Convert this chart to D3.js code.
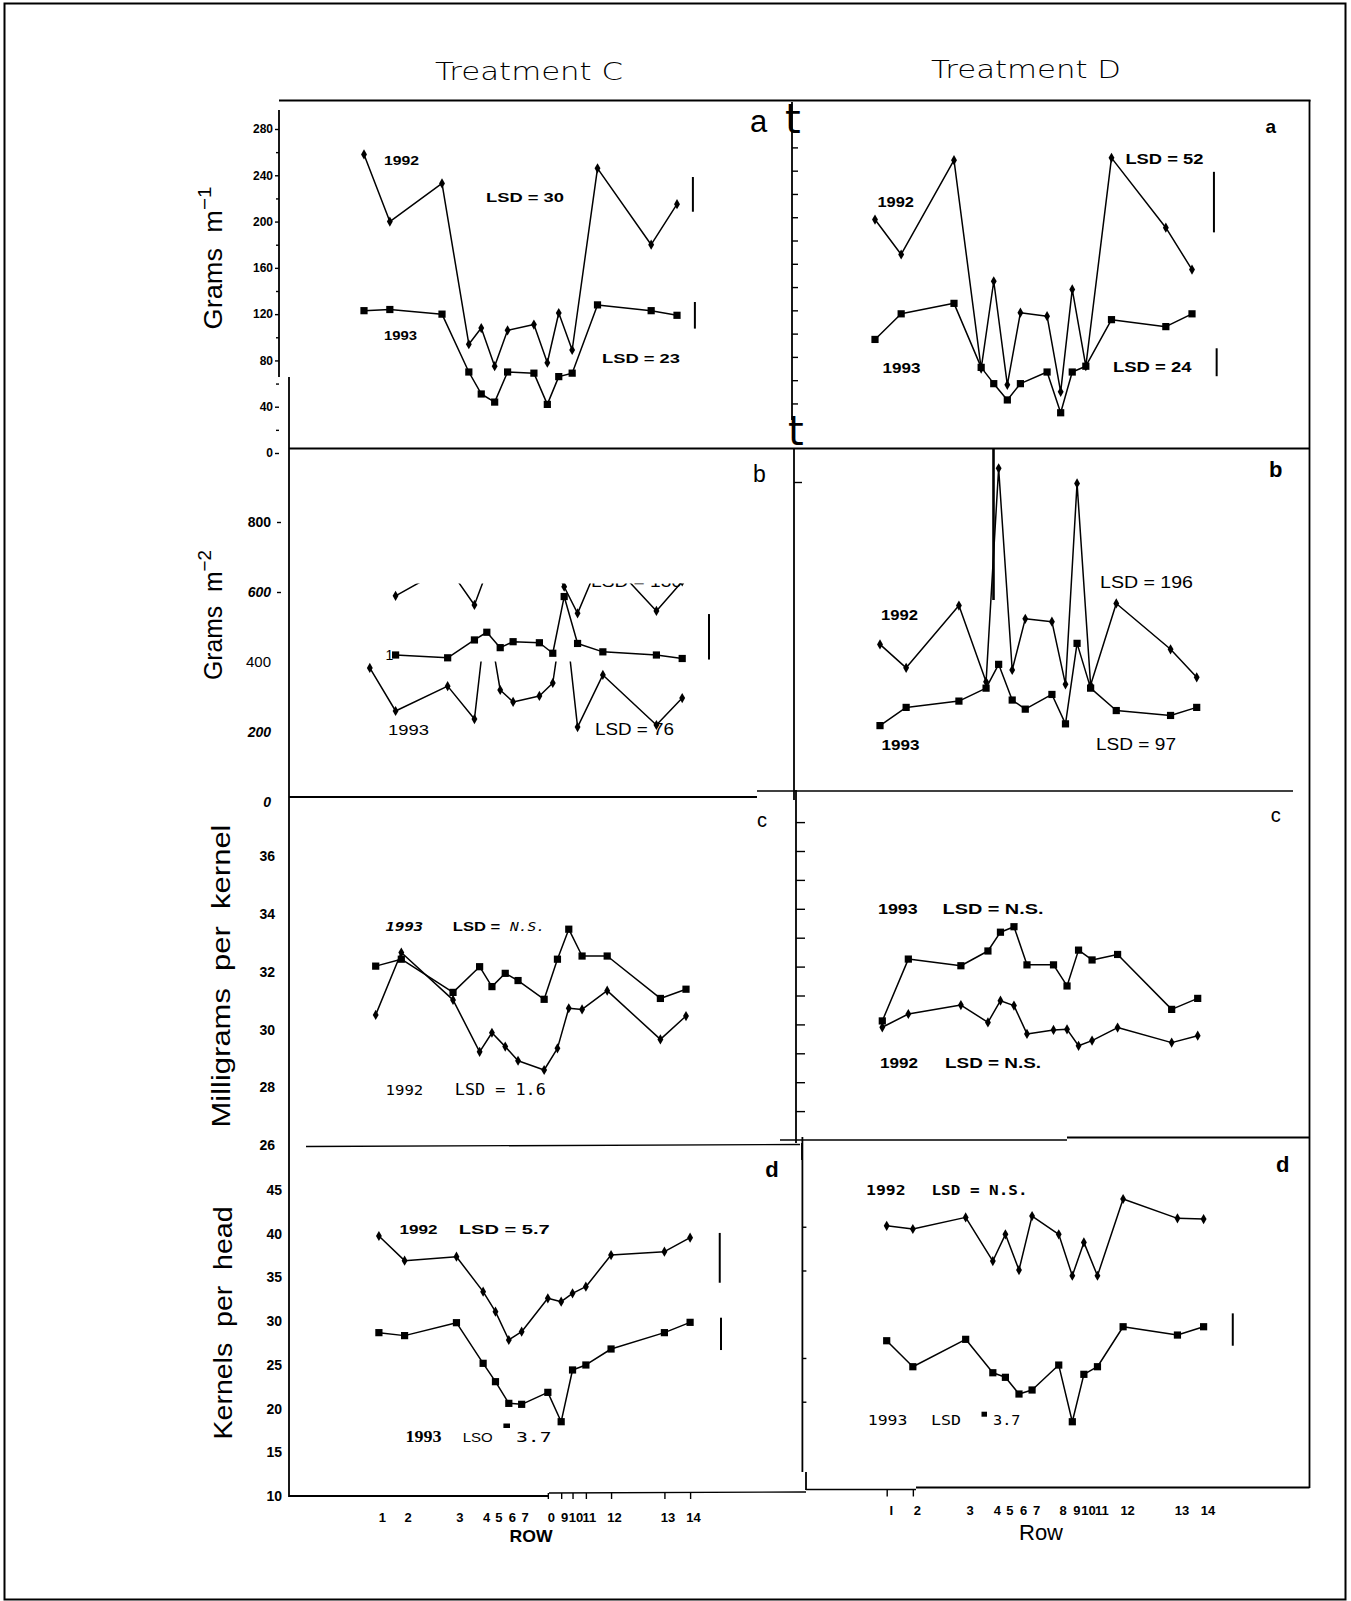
<!DOCTYPE html>
<html><head><meta charset="utf-8">
<script src="https://cdn.jsdelivr.net/npm/d3@7"></script>
<style>
body{margin:0;background:#fff}
svg text{white-space:pre}
</style></head><body>
<svg id="chart" width="1351" height="1601"></svg>
<script>
// ---------------- DATA ----------------
const rowLabelsC = ["1","2","3","4","5","6","7","0","9","10","11","12","13","14"];
const rowLabelsD = ["I","2","3","4","5","6","7","8","9","10","11","12","13","14"];
// relative distance of each row across the plot (row 1 = 0)
const rowDistance = [0, 26, 78.5, 105.5, 118, 131.5, 144.5, 171, 184.5, 196, 209.5, 235, 289, 315];

// (a) Grams m-1
const aC1992 = [258,200,233,94,108,75,106,111,78,121,89,246,180,215];
const aC1993 = [123,124,120,70,51,44,70,69,42,66,69,128,123,119];
const aD1992 = [198,168,249,70,145,56,118,115,50,138,72,251,191,155];
const aD1993 = [95,117,126,71,57,43,57,67,32,67,72,112,106,117];
// (b) Grams m-2
const bCSquares  = [null,420,412,463,485,441,458,455,425,587,453,429,420,410];
const bCDiamonds = [383,260,331,237,545,320,286,303,340,560,214,363,220,297];
const bCUpper    = [null,589,672,563,658,680,700,690,680,615,539,710,546,630];
const bD1992 = [416,349,527,309,919,343,489,481,302,876,300,533,402,322];
const bD1993 = [184,236,254,291,359,257,231,273,189,419,291,227,213,236];
// (c) Milligrams per kernel
const cC1993 = [32.2,32.44,31.29,32.18,31.49,31.95,31.70,31.05,32.44,33.48,32.55,32.55,31.08,31.40];
const cC1992 = [30.51,32.67,31.03,29.23,29.89,29.41,28.92,28.60,29.35,30.74,30.70,31.35,29.66,30.47];
const cD1993 = [30.12,32.26,32.03,32.54,33.19,33.38,32.06,32.06,31.33,32.57,32.23,32.42,30.52,30.90];
const cD1992 = [29.90,30.36,30.67,30.07,30.82,30.65,29.67,29.81,29.83,29.26,29.44,29.89,29.37,29.61];
// (d) Kernels per head
const dC1992 = [39.75,36.93,37.38,33.38,31.09,27.85,28.80,32.62,32.23,33.19,33.95,37.57,37.95,39.56];
const dC1993 = [28.69,28.35,29.83,25.18,23.08,20.60,20.49,21.86,18.50,24.42,24.99,26.82,28.69,29.87];
const dD1992 = [40.11,39.74,41.07,36.08,39.13,35.05,41.22,39.13,34.40,38.21,34.40,43.17,40.96,40.88];
const dD1993 = [26.97,24.00,27.13,23.31,22.79,20.88,21.34,24.19,17.71,23.13,24.00,28.57,27.62,28.57];

// LSD values
const lsdA_C = [30, 23];
const lsdA_D = [52, 24];
const lsdB_C = [76, 130];
const lsdB_D = [196, 97];
const lsdD_C = [5.7, 3.7];
const lsdD_D = [3.7];

// y tick values
const ticksA_C = [0,40,80,120,160,200,240,280];
const minorA_C = [20,60,100,140,180,220,260];
const ticksA_D = [40,60,80,100,120,140,160,180,200,220,240,260];
const ticksB_C = [800,600,400,200,0];
const ticksC_C = [26,28,30,32,34,36];
const ticksC_D = [27,28,29,30,31,32,33,34,35,36,37];
const ticksD_C = [10,15,20,25,30,35,40,45];
const ticksD_D = [20,25,35,40];

// ---------------- LAYOUT ----------------
const FONT = "'Liberation Sans', Arial, Helvetica, sans-serif";
const MONO = "'DejaVu Sans Mono', 'Liberation Mono', monospace";
const svg = d3.select("#chart");
svg.append("rect").attr("width",1351).attr("height",1601).attr("fill","#fff");
const defs = svg.append("defs");

const layout = {
  aC:{x:[364,677],     yd:[0,280],  yr:[453,129]},
  aD:{x:[875,1192],    yd:[0,260],  yr:[450,147.4]},
  bC:{x:[369.8,682.2], yd:[0,1000], yr:[802,452]},
  bD:{x:[880,1196.7],  yd:[0,1000], yr:[790,440]},
  cC:{x:[375.7,686],   yd:[26,37],  yr:[1145,827.65]},
  cD:{x:[882.3,1197.7],yd:[26,37],  yr:[1140,822.1]},
  dC:{x:[378.9,690.1], yd:[10,45],  yr:[1496,1190.1]},
  dD:{x:[886.7,1203.6],yd:[10,45],  yr:[1489.2,1183]}
};
const S = {};
for (const k in layout) {
  S[k] = {x:d3.scaleLinear().domain([0,315]).range(layout[k].x),
          y:d3.scaleLinear().domain(layout[k].yd).range(layout[k].yr)};
}

function line(x1,y1,x2,y2,w){
  svg.append("line").attr("x1",x1).attr("y1",y1).attr("x2",x2).attr("y2",y2)
    .attr("stroke","#000").attr("stroke-width",w||1.8);
}
function txt(x,y,s,o={}){
  const t = svg.append("text").attr("x",x).attr("y",y).text(s)
    .attr("font-family",o.family||FONT).attr("font-size",o.size||13)
    .attr("font-weight",o.weight||"normal").attr("font-style",o.style||"normal")
    .attr("fill","#000");
  if (o.len) t.attr("textLength",o.len).attr("lengthAdjust","spacingAndGlyphs");
  if (o.anchor) t.attr("text-anchor",o.anchor);
  if (o.clip) t.attr("clip-path",`url(#${o.clip})`);
  return t;
}
function series(key, values, marker, clip){
  const sc = S[key];
  const g = svg.append("g");
  if (clip) g.attr("clip-path",`url(#${clip})`);
  const pts = values.map((v,i)=>({d:rowDistance[i], v}));
  g.append("path").datum(pts).attr("fill","none").attr("stroke","#000")
    .attr("stroke-width",1.5).attr("stroke-linejoin","round")
    .attr("d", d3.line().defined(p=>p.v!=null).x(p=>sc.x(p.d)).y(p=>sc.y(p.v)));
  const sym = marker==="square" ? d3.symbol(d3.symbolSquare,52) : d3.symbol(d3.symbolDiamond,30);
  g.selectAll(null).data(pts.filter(p=>p.v!=null)).join("path")
    .attr("transform",p=>`translate(${sc.x(p.d)},${sc.y(p.v)})`)
    .attr("d",sym).attr("fill","#000");
}
function lsdBar(key, at, top, lsd){
  const sc = S[key];
  line(sc.x(at), sc.y(top), sc.x(at), sc.y(top - lsd), 2);
}
function styleAxis(g, size, weight){
  g.select(".domain").remove();
  g.selectAll("line").attr("stroke","#000").attr("stroke-width",1.4);
  g.selectAll("text").attr("font-family",FONT).attr("font-size",size)
    .attr("font-weight",weight||"bold").attr("fill","#000");
}
function clipRect(id,x,y,w,h){
  defs.append("clipPath").attr("id",id).append("rect").attr("x",x).attr("y",y).attr("width",w).attr("height",h);
}

// ---------------- FRAME ----------------
svg.append("rect").attr("x",4.5).attr("y",3.5).attr("width",1341).attr("height",1596)
  .attr("fill","none").attr("stroke","#000").attr("stroke-width",2);
line(279,100.5,1310.5,100.5);
line(1309.5,100,1309.5,1488);
line(279,110,279,377);
line(289,377,289,1497);
line(289,448.5,1309.5,448.5);
line(792,102,792,420);
line(794,448,794,800);
line(289,797,757,797);
line(757,791,1293,791,1.4);
line(796,790,796,1143);
line(802,1143,802,1160);
line(306,1146.5,800,1144.5,1.4);
line(780,1140,1067,1140,1.4);
line(1067,1137.5,1309.5,1137.5);
line(802.4,1137,802.4,1472);
line(806,1472,806,1490);
line(289,1496,549,1496);
line(549,1493,806,1492,1.4);
line(806,1489.5,916,1489.5,1.4);
line(916,1487.5,1309.5,1487.5);
line(993.5,448,993.5,600,2.6);

// ---------------- TITLES ----------------
txt(435,80,"Treatment C",{family:"'DejaVu Sans', sans-serif",weight:200,size:25,len:188});
txt(931,78,"Treatment D",{family:"'DejaVu Sans', sans-serif",weight:200,size:25,len:190});

function vtitle(cx,cy,parts,len){
  const t = svg.append("text").attr("transform",`translate(${cx},${cy}) rotate(-90)`)
    .attr("text-anchor","middle").attr("font-family",FONT).attr("font-size",25).attr("fill","#000");
  parts.forEach(p=>{
    const ts = t.append("tspan").text(p.t);
    if (p.sup) ts.attr("dy",-11).attr("font-size",19);
  });
  if (len) t.attr("textLength",len).attr("lengthAdjust","spacingAndGlyphs");
}
vtitle(222,258,[{t:"Grams  m"},{t:"\u22121",sup:true}],143);
vtitle(222,615,[{t:"Grams  m"},{t:"\u22122",sup:true}],130);
vtitle(230,976,[{t:"Milligrams  per  kernel"}],303);
vtitle(232,1323,[{t:"Kernels  per  head"}],233);

// ---------------- AXES ----------------
// a, Treatment C
let g = svg.append("g").attr("transform","translate(279,0)")
  .call(d3.axisLeft(S.aC.y).tickValues(ticksA_C).tickSize(4).tickPadding(2).tickFormat(d3.format("d")));
styleAxis(g,12,"bold");
g = svg.append("g").attr("transform","translate(279,0)")
  .call(d3.axisLeft(S.aC.y).tickValues(minorA_C).tickSize(3).tickFormat(""));
styleAxis(g,12);
// a, Treatment D (inward ticks)
g = svg.append("g").attr("transform","translate(792,0)")
  .call(d3.axisRight(S.aD.y).tickValues(ticksA_D).tickSize(6).tickFormat(""));
styleAxis(g,12);
// b, Treatment C
g = svg.append("g").attr("transform","translate(281,0)")
  .call(d3.axisLeft(S.bC.y).tickValues(ticksB_C).tickSize(4).tickPadding(6).tickFormat(d3.format("d")));
styleAxis(g,15,"normal");
g.selectAll(".tick").each(function(d){
  const t = d3.select(this);
  if (d < 600) t.select("line").remove();
  if (d === 800) t.select("text").attr("font-weight","bold").attr("font-size",14);
  if (d === 600 || d === 200 || d === 0) t.select("text").attr("font-style","italic").attr("font-weight","bold").attr("font-size",14);
});
// b, Treatment D
g = svg.append("g").attr("transform","translate(794,0)")
  .call(d3.axisRight(S.bD.y).tickValues([880]).tickSize(8).tickFormat(""));
styleAxis(g,12);
// c
g = svg.append("g").attr("transform","translate(279,0)")
  .call(d3.axisLeft(S.cC.y).tickValues(ticksC_C).tickSize(0).tickPadding(4).tickFormat(d3.format("d")));
styleAxis(g,14,"bold");
g = svg.append("g").attr("transform","translate(796,0)")
  .call(d3.axisRight(S.cD.y).tickValues(ticksC_D).tickSize(9).tickFormat(""));
styleAxis(g,12);
// d
g = svg.append("g").attr("transform","translate(285,0)")
  .call(d3.axisLeft(S.dC.y).tickValues(ticksD_C).tickSize(0).tickPadding(3).tickFormat(d3.format("d")));
styleAxis(g,14,"bold");
g = svg.append("g").attr("transform","translate(802.4,0)")
  .call(d3.axisRight(S.dD.y).tickValues(ticksD_D).tickSize(4).tickFormat(""));
styleAxis(g,12);
// row axes
g = svg.append("g").attr("transform","translate(0,1493)")
  .call(d3.axisBottom(S.dC.x).tickValues(rowDistance.slice(7)).tickSize(6).tickFormat(""));
styleAxis(g,12);
g = svg.append("g").attr("transform","translate(3,1493)")
  .call(d3.axisBottom(S.dC.x).tickValues(rowDistance).tickSize(0).tickPadding(20)
        .tickFormat((d,i)=>rowLabelsC[i]));
styleAxis(g,13,"bold");
g = svg.append("g").attr("transform","translate(0,1489.5)")
  .call(d3.axisBottom(S.dD.x).tickValues(rowDistance.slice(0,2)).tickSize(7).tickFormat(""));
styleAxis(g,12);
g = svg.append("g").attr("transform","translate(4,1489)")
  .call(d3.axisBottom(S.dD.x).tickValues(rowDistance).tickSize(0).tickPadding(17)
        .tickFormat((d,i)=>rowLabelsD[i]));
styleAxis(g,13,"bold");
txt(531,1542,"ROW",{size:17,weight:"bold",anchor:"middle",len:43});
txt(1041,1540,"Row",{size:22,anchor:"middle",len:44});

// ---------------- SERIES ----------------
series("aC", aC1992, "diamond");
series("aC", aC1993, "square");
series("aD", aD1992, "diamond");
series("aD", aD1993, "square");

clipRect("clipUpper", 289, 583.5, 470, 215);
clipRect("clipLower", 289, 661.5, 470, 136);
series("bC", bCUpper, "diamond", "clipUpper");
series("bC", bCSquares, "square");
series("bC", bCDiamonds, "diamond", "clipLower");
series("bD", bD1992, "diamond");
series("bD", bD1993, "square");

series("cC", cC1993, "square");
series("cC", cC1992, "diamond");
series("cD", cD1993, "square");
series("cD", cD1992, "diamond");

series("dC", dC1992, "diamond");
series("dC", dC1993, "square");
series("dD", dD1992, "diamond");
series("dD", dD1993, "square");

// LSD bars (length = LSD in the panel's units)
lsdBar("aC", 331, 238.5, lsdA_C[0]);
lsdBar("aC", 333, 130.5, lsdA_C[1]);
lsdBar("aD", 336.8, 239, lsdA_D[0]);
lsdBar("aD", 339.5, 87.4, lsdA_D[1]);
lsdBar("bC", 342, 537, lsdB_C[1]);
lsdBar("dC", 345, 40.1, lsdD_C[0]);
lsdBar("dC", 346.3, 30.4, lsdD_C[1]);
lsdBar("dD", 344, 30.1, lsdD_D[0]);

// ---------------- ANNOTATIONS ----------------
// panel a, C
txt(384,165,"1992",{weight:"bold",len:35});
txt(384,340,"1993",{weight:"bold",len:33});
txt(486,202,`LSD = ${lsdA_C[0]}`,{weight:"bold",len:78});
txt(602,363,`LSD = ${lsdA_C[1]}`,{weight:"bold",len:78});
txt(750,132,"a",{size:31});
txt(785,133,"t",{size:40,family:"'DejaVu Sans', sans-serif"});
txt(788,445,"t",{size:40,family:"'DejaVu Sans', sans-serif"});
// panel a, D
txt(877.5,206.7,"1992",{weight:"bold",size:14,len:36.5});
txt(882.6,373.3,"1993",{weight:"bold",size:14,len:38});
txt(1125.4,164,`LSD = ${lsdA_D[0]}`,{weight:"bold",size:14,len:78});
txt(1113,371.7,`LSD = ${lsdA_D[1]}`,{weight:"bold",size:14,len:78.5});
txt(1265.5,133.3,"a",{weight:"bold",size:19});
// panel b, C
txt(385.6,660,"1",{size:14});
txt(388,735,"1993",{size:15,len:41});
txt(595,735,`LSD = ${lsdB_C[0]}`,{size:16,len:79});
txt(591,586.7,`LSD = ${lsdB_C[1]}`,{size:16,len:91,clip:"clipUpper"});
txt(753,481.7,"b",{size:23});
// panel b, D
txt(881,620,"1992",{weight:"bold",size:14,len:37});
txt(881.6,750,"1993",{weight:"bold",size:14,len:38});
txt(1100,588,`LSD = ${lsdB_D[0]}`,{size:16,len:93});
txt(1096,750,`LSD = ${lsdB_D[1]}`,{size:16,len:80});
txt(1269,477,"b",{weight:"bold",size:22});
// panel c, C
txt(385.6,930.7,"1993",{family:MONO,weight:"bold",style:"italic",size:13,len:37.6});
txt(452.8,930.7,"LSD = ",{weight:"bold",size:13,len:52});
txt(510,930.7,"N.S.",{family:MONO,style:"italic",size:13,len:35});
txt(385.6,1095,"1992",{family:MONO,size:14,len:37.6});
txt(454.8,1095,"LSD = 1.6",{family:MONO,size:15,len:91});
txt(757,827,"c",{size:20});
// panel c, D
txt(878,914,"1993",{weight:"bold",size:14,len:39.6});
txt(942.5,914,"LSD = N.S.",{weight:"bold",size:14,len:101});
txt(880,1068,"1992",{weight:"bold",size:14,len:38});
txt(945,1068,"LSD = N.S.",{weight:"bold",size:14,len:96});
txt(1270.7,821.7,"c",{size:20});
// panel d, C
txt(399.5,1234,"1992",{weight:"bold",size:13,len:38});
txt(458.8,1234,`LSD = ${lsdD_C[0]}`,{weight:"bold",size:13,len:91});
txt(405.4,1441.7,"1993",{family:"'Liberation Serif', 'Times New Roman', serif",weight:"bold",size:16,len:36});
txt(462.7,1441.7,"LSO",{size:13,len:30});
svg.append("rect").attr("x",503.4).attr("y",1423.5).attr("width",6.6).attr("height",4.5).attr("fill","#000");
txt(516,1441.7,`${lsdD_C[1]}`,{family:MONO,size:14,len:35.6});
txt(765.2,1176.7,"d",{weight:"bold",size:22});
// panel d, D
txt(866,1195,"1992",{family:MONO,weight:"bold",size:14,len:39.6});
txt(931.5,1195,"LSD = N.S.",{family:MONO,weight:"bold",size:14,len:96});
txt(867.8,1425,"1993",{family:MONO,size:14,len:39.6});
txt(931,1425,"LSD",{family:MONO,size:14,len:30});
svg.append("rect").attr("x",981.5).attr("y",1411.7).attr("width",5.5).attr("height",5).attr("fill","#000");
txt(993,1425,`${lsdD_D[0]}`,{family:MONO,size:14,len:27.5});
txt(1275.9,1171.7,"d",{weight:"bold",size:22});
</script>
</body></html>
